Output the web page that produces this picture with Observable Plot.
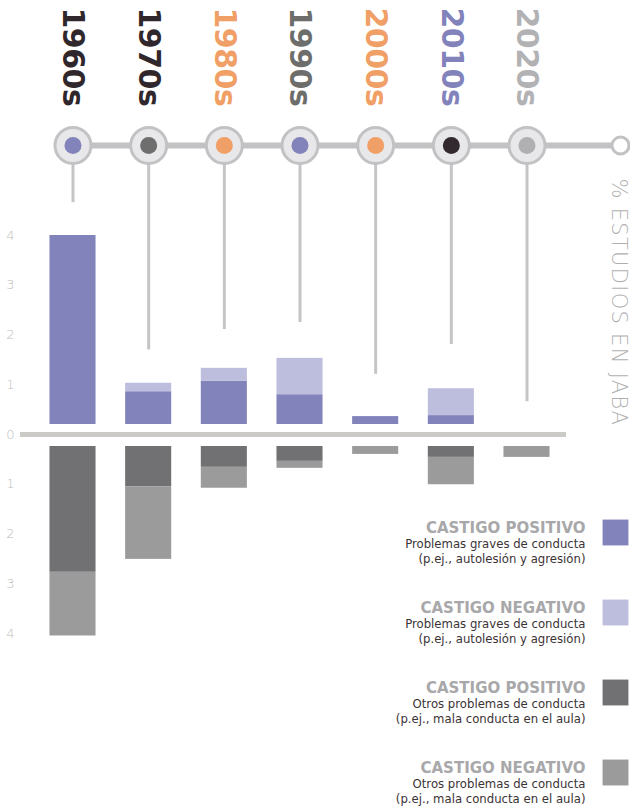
<!DOCTYPE html>
<html>
<head>
<meta charset="utf-8">
<script src="https://cdn.jsdelivr.net/npm/d3@7"></script>
<script src="https://cdn.jsdelivr.net/npm/@observablehq/plot@0.6"></script>
<style>
  html, body { margin: 0; padding: 0; background: #fff; }
  #chart { width: 630px; height: 807px; }
</style>
</head>
<body>
<div id="chart"></div>
<script>
// ---- data ----
const decades = ["1960s", "1970s", "1980s", "1990s", "2000s", "2010s", "2020s"];
const years = [1960, 1970, 1980, 1990, 2000, 2010, 2020];
// % of JABA studies (serious problems: self-injury & aggression), drawn upward
const gravesPositivo = [4.0, 0.86, 1.07, 0.80, 0.36, 0.38, 0];
const gravesNegativo = [0, 0.17, 0.26, 0.73, 0, 0.54, 0];
// % of JABA studies (other problems: classroom misconduct), drawn downward
const otrosPositivo = [2.77, 1.05, 0.66, 0.54, 0, 0.46, 0];
const otrosNegativo = [1.28, 1.46, 0.42, 0.14, 0.40, 0.55, 0.46];
// reach of each timeline stem (in axis units)
const stemReach = [4.66, 1.70, 2.11, 2.25, 1.21, 1.81, 0.66];
const yTicks = [-4, -3, -2, -1, 0, 1, 2, 3, 4];
const axisTitle = "% ESTUDIOS EN JABA";
const legendTitles = ["CASTIGO POSITIVO", "CASTIGO NEGATIVO", "CASTIGO POSITIVO", "CASTIGO NEGATIVO"];
const legendLine1 = ["Problemas graves de conducta", "Problemas graves de conducta", "Otros problemas de conducta", "Otros problemas de conducta"];
const legendLine2 = ["(p.ej., autolesión y agresión)", "(p.ej., autolesión y agresión)", "(p.ej., mala conducta en el aula)", "(p.ej., mala conducta en el aula)"];

// ---- styles / layout ----
const seriesColors = ["#8383bc", "#bdbddd", "#717173", "#9b9b9b"];
const labelColors = ["#2f272b", "#2f272b", "#f0a066", "#6d6d6b", "#f0a066", "#8383bc", "#b2b2b4"];
const dotColors = ["#8383bc", "#6e6e6e", "#f0a066", "#8383bc", "#f0a066", "#322a2e", "#b0b0b2"];
const Y_DOMAIN = [-4, 4];
const Y_RANGE = [633, 235];
const TIMELINE_Y = 145;   // pixel row of the timeline
const FONT = "DejaVu Sans";
// value on the y scale that corresponds to the timeline row
const timelineValue = d3.scaleLinear().domain(Y_RANGE).range(Y_DOMAIN)(TIMELINE_Y);

// ---- build stacked segments ----
const segs = [];
years.forEach((yr, i) => {
  const gp = gravesPositivo[i], gn = gravesNegativo[i], op = otrosPositivo[i], on = otrosNegativo[i];
  segs.push({year: yr, y1: 0, y2: gp, s: 0, side: "up"});
  segs.push({year: yr, y1: gp, y2: gp + gn, s: 1, side: "up"});
  segs.push({year: yr, y1: 0, y2: -op, s: 2, side: "down"});
  segs.push({year: yr, y1: -op, y2: -(op + on), s: 3, side: "down"});
});
const visible = segs.filter(d => d.y2 !== d.y1);
const barOpts = {
  x1: d => d.year - 5, x2: d => d.year + 5, y1: "y1", y2: "y2",
  fill: d => seriesColors[d.s], insetLeft: 14.8, insetRight: 14.8
};

const legendMarks = legendTitles.flatMap((t, i) => [
  Plot.dot([t], {frameAnchor: "top-right", dx: -5, dy: 532 + i * 80, symbol: "square", r: 14.6, fill: seriesColors[i]}),
  Plot.text([t], {frameAnchor: "top-right", dx: -35, dy: 532 + i * 80, textAnchor: "end", lineAnchor: "bottom",
    fontSize: 15, fontWeight: "bold", fill: "#a8a8aa"}),
  Plot.text([legendLine1[i] + "\n" + legendLine2[i]], {frameAnchor: "top-right", dx: -35, dy: 562 + i * 80,
    textAnchor: "end", lineAnchor: "bottom", lineHeight: 1.2, fontSize: 11.7, fill: "#3b3336"})
]);

const chart = Plot.plot({
  width: 630,
  height: 807,
  margin: 0,
  marginRight: 10,
  style: {fontFamily: FONT, background: "#fff"},
  x: {type: "linear", domain: [1960, 2020], range: [72.5, 526.5], axis: null},
  y: {type: "linear", domain: Y_DOMAIN, range: Y_RANGE, axis: null},
  color: {type: "identity"},
  marks: [
    // zero baseline
    Plot.ruleY([0], {stroke: "#cccac7", strokeWidth: 5, insetLeft: 20, insetRight: 54}),
    // stems
    Plot.ruleX(years, {x: d => d, y1: timelineValue, y2: (d, i) => stemReach[i], stroke: "#c5c5c7", strokeWidth: 3}),
    // bars
    Plot.rect(visible.filter(d => d.side === "up" && d.y1 === 0), {...barOpts, insetBottom: 10}),
    Plot.rect(visible.filter(d => d.side === "down" && d.y1 === 0), {...barOpts, insetTop: 12}),
    Plot.rect(visible.filter(d => d.y1 !== 0), barOpts),
    // timeline line
    Plot.ruleY([timelineValue], {stroke: "#c2c2c4", strokeWidth: 6, insetLeft: 60}),
    // timeline circles
    Plot.dot(years, {x: d => d, y: timelineValue, r: 18, fill: "#e8e8ea", stroke: "#c2c2c4", strokeWidth: 3}),
    Plot.dot(years, {x: d => d, y: timelineValue, r: 8.5, fill: (d, i) => dotColors[i]}),
    Plot.dot([timelineValue], {y: d => d, frameAnchor: "right", r: 8.5, fill: "#fff", stroke: "#c2c2c4", strokeWidth: 3}),
    // decade labels
    Plot.text(years, {x: d => d, text: (d, i) => decades[i], frameAnchor: "top", dy: 7, rotate: 90,
      textAnchor: "start", lineAnchor: "middle", fill: (d, i) => labelColors[i], fontSize: 30, fontWeight: "bold"}),
    // y tick labels
    Plot.text(yTicks, {y: d => d, text: d => String(Math.abs(d)), frameAnchor: "left", dx: 10,
      textAnchor: "middle", fill: "#bdbdbd", fontSize: 13, fontWeight: 200}),
    // axis title
    Plot.text([axisTitle], {frameAnchor: "top-right", dx: -2, dy: 178, rotate: 90, textAnchor: "start",
      lineAnchor: "middle", fontSize: 21, fontWeight: 200, fill: "#b0b0b0"}),
    ...legendMarks
  ]
});

d3.select(chart).selectAll("text").each(function () {
  const t = this.textContent;
  if (decades.includes(t)) d3.select(this).attr("letter-spacing", "-0.5");
  if (t === axisTitle) d3.select(this).attr("letter-spacing", "1.3");
});

document.getElementById("chart").appendChild(chart);
</script>
</body>
</html>
